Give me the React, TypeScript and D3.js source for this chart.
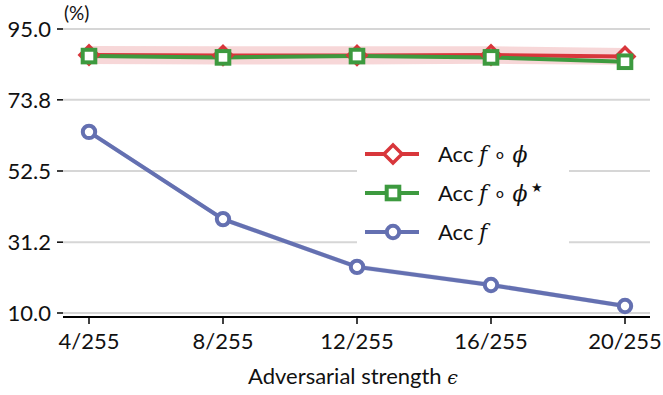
import React from 'react';
import * as d3 from 'd3';

// Data
const epsilons = ['4/255', '8/255', '12/255', '16/255', '20/255'];
const accComposed = [87.2, 87.1, 87.1, 87.2, 86.8];
const accComposedStar = [86.9, 86.5, 86.9, 86.5, 85.2];
const accBase = [64.2, 38.1, 23.8, 18.4, 12.1];
const composedSpread = [2.7, 2.7, 2.7, 2.6, 2.5];
const starSpread = [0.4, 0.4, 0.4, 0.4, 0.4];
const baseSpread = [0.7, 0.7, 0.7, 0.7, 0.7];
const yTicks = [10.0, 31.2, 52.5, 73.8, 95.0];

const width = 663;
const height = 395;
const font = 'Lato, "Open Sans", sans-serif';
const mathFont = '"DejaVu Serif", serif';

const colors = { red: '#d8363b', green: '#3d9a3f', blue: '#6470b1' };

const App = () => {
  const xScale = d3.scalePoint<string>()
    .domain(epsilons)
    .range([89, 625]);

  const yScale = d3.scaleLinear()
    .domain([10, 95])
    .range([313, 29]);

  const line = d3.line<number>()
    .x((d, i) => xScale(epsilons[i]) as number)
    .y(d => yScale(d));

  const band = (vals: number[], spread: number[]) => d3.area<number>()
    .x((d, i) => xScale(epsilons[i]) as number)
    .y0((d, i) => yScale(d - spread[i]))
    .y1((d, i) => yScale(d + spread[i]))(vals) as string;

  const diamond = (x: number, y: number, key: string | number) => {
    const s = 9;
    return (
      <path key={key} d={`M${x},${y - s}L${x + s},${y}L${x},${y + s}L${x - s},${y}Z`}
        fill="white" stroke={colors.red} strokeWidth={3.5} />
    );
  };
  const square = (x: number, y: number, key: string | number) => {
    const s = 6.3;
    return (
      <rect key={key} x={x - s} y={y - s} width={s * 2} height={s * 2}
        fill="white" stroke={colors.green} strokeWidth={4} />
    );
  };
  const circle = (x: number, y: number, key: string | number) => (
    <circle key={key} cx={x} cy={y} r={6.2} fill="white" stroke={colors.blue} strokeWidth={4} />
  );

  const it = (s: string) => <tspan fontStyle="italic" fontFamily={mathFont}>{s}</tspan>;
  const legendRows = [
    { color: colors.red, marker: diamond, label: <>Acc {it('f')} ∘ {it('ϕ')}</> },
    { color: colors.green, marker: square, label: <>Acc {it('f')} ∘ {it('ϕ')}<tspan dy={-9} fontSize={13}> ★</tspan></> },
    { color: colors.blue, marker: circle, label: <>Acc {it('f')}</> },
  ];

  return (
    <svg width={width} height={height} style={{ position: 'absolute', left: 0, top: 0 }}
      fontFamily={font}>
      <rect width={width} height={height} fill="white" />

      {/* grid lines */}
      {yTicks.map(t => (
        <line key={t} x1={63} x2={650} y1={yScale(t)} y2={yScale(t)} stroke="#d6d6d6" strokeWidth={2} />
      ))}

      {/* y ticks */}
      {yTicks.map(t => (
        <g key={'yt' + t}>
          <line x1={57} x2={63} y1={yScale(t)} y2={yScale(t)} stroke="black" strokeWidth={1.5} />
          <text x={51} y={yScale(t)} dy="0.36em" textAnchor="end" fontSize={22} fill="#111">{t.toFixed(1)}</text>
        </g>
      ))}
      <text x={64} y={20} fontSize={19} fill="#111">(%)</text>

      {/* bottom axis */}
      <line x1={63} x2={650} y1={317} y2={317} stroke="black" strokeWidth={2} />
      {epsilons.map(e => (
        <g key={e}>
          <line x1={xScale(e)} x2={xScale(e)} y1={317} y2={324} stroke="black" strokeWidth={1.5} />
          <text x={xScale(e)} y={349} textAnchor="middle" fontSize={22} fill="#111">{e}</text>
        </g>
      ))}
      <text x={353} y={384} textAnchor="middle" fontSize={22} fill="#111">
        Adversarial strength <tspan fontStyle="italic" fontFamily={mathFont} fontSize={19}>ϵ</tspan>
      </text>

      {/* uncertainty bands */}
      <path d={band(accComposed, composedSpread)} fill={colors.red} opacity={0.2} />
      <path d={band(accComposedStar, starSpread)} fill={colors.green} opacity={0.2} />
      <path d={band(accBase, baseSpread)} fill={colors.blue} opacity={0.3} />

      {/* lines */}
      <path d={line(accBase) as string} fill="none" stroke={colors.blue} strokeWidth={4} />
      <path d={line(accComposed) as string} fill="none" stroke={colors.red} strokeWidth={4} />
      <path d={line(accComposedStar) as string} fill="none" stroke={colors.green} strokeWidth={4} />

      {accBase.map((v, i) => circle(xScale(epsilons[i]) as number, yScale(v), 'b' + i))}
      {accComposed.map((v, i) => diamond(xScale(epsilons[i]) as number, yScale(v), 'r' + i))}
      {accComposedStar.map((v, i) => square(xScale(epsilons[i]) as number, yScale(v), 'g' + i))}

      {/* legend */}
      <rect x={357} y={134} width={212} height={118} fill="white" />
      {legendRows.map((row, i) => {
        const y = 154 + i * 39;
        return (
          <g key={i}>
            <line x1={365} x2={419} y1={y} y2={y} stroke={row.color} strokeWidth={4} />
            {row.marker(393, y, 'lm' + i)}
            <text x={438} y={y} dy="0.36em" fontSize={22} fill="#111">{row.label}</text>
          </g>
        );
      })}
    </svg>
  );
};

export default App;
